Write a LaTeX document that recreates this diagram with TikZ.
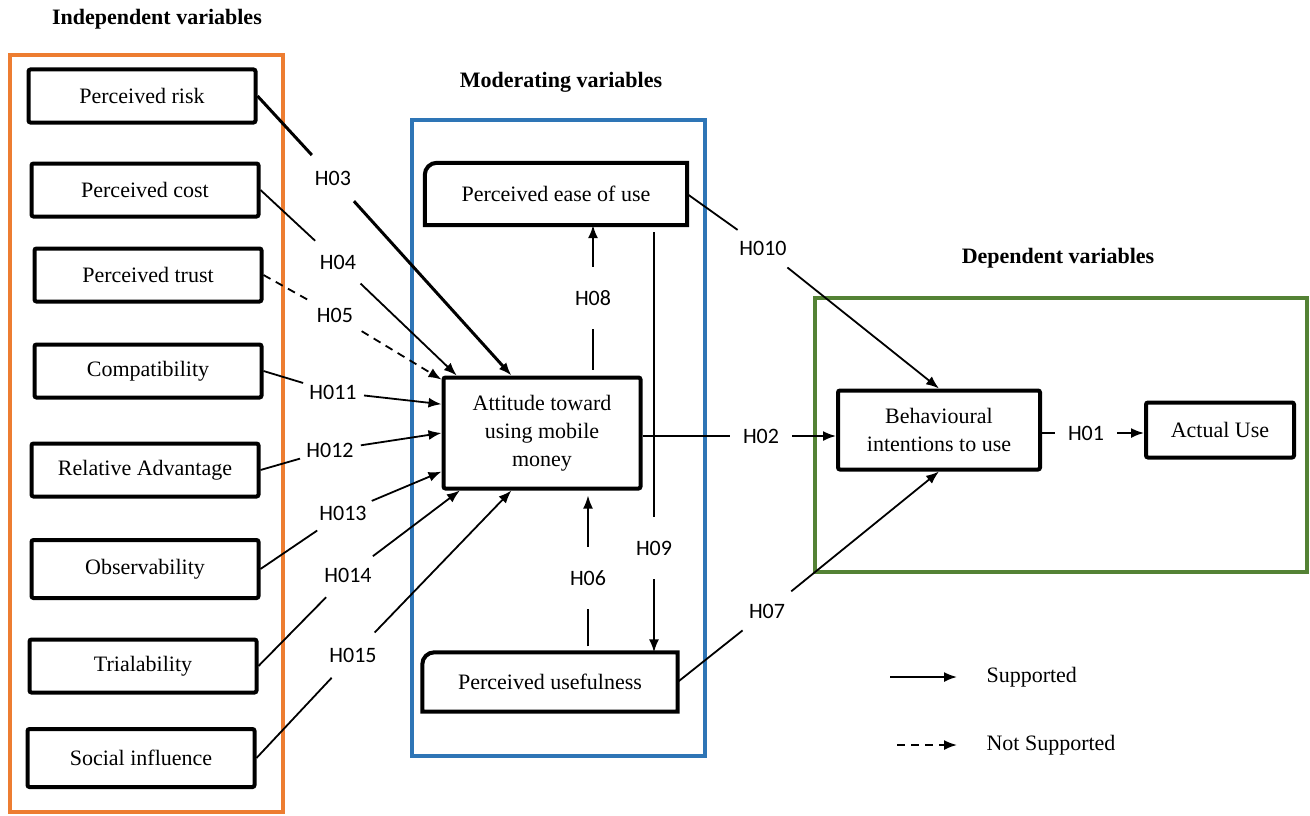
\documentclass[tikz,border=0pt]{standalone}
\usepackage{fontspec}
\setmainfont{Liberation Serif}
\newfontfamily\hypfont{Carlito}
\usetikzlibrary{arrows.meta}
\definecolor{indepcol}{HTML}{ED7D31}
\definecolor{modercol}{HTML}{2E75B6}
\definecolor{depcol}{HTML}{548235}

\begin{document}
\begin{tikzpicture}[x=1pt,y=-1pt,
  varbox/.style={draw, line width=4pt, rounded corners=2pt, minimum width=227pt,
    minimum height=53pt, inner sep=0pt, align=center, font=\fontsize{22}{28}\selectfont},
  modbox/.style={minimum width=262pt, minimum height=62pt, inner sep=0pt,
    font=\fontsize{22}{28}\selectfont},
  boxline/.style={line width=4pt},
  hyp/.style={circle, minimum size=62pt, inner sep=0pt, font=\hypfont\fontsize{22}{26}\selectfont},
  heading/.style={font=\bfseries\fontsize{22}{26}\selectfont},
  groupframe/.style={line width=4pt},
  link/.style={line width=1.8pt},
  arr/.style={-{Latex[length=13pt,width=10pt]}},
]
\useasboundingbox (0,0) rectangle (1310,816);

% group frames
\draw[groupframe, indepcol] (10,55) rectangle (283,812);
\draw[groupframe, modercol] (412,120) rectangle (705,756);
\draw[groupframe, depcol] (815,298) rectangle (1307,572);

\node[heading] (indep) at (157,19) {Independent variables};
\node[heading] (moder) at (561,82) {Moderating variables};
\node[heading] (depend) at (1058,258) {Dependent variables};

% independent variables
\node[varbox] (risk) at (142,96) {Perceived risk};
\node[varbox] (cost) at (145,190) {Perceived cost};
\node[varbox] (trust) at (148,275) {Perceived trust};
\node[varbox] (compat) at (148,371) {Compatibility};
\node[varbox] (reladv) at (145,470) {Relative Advantage};
\node[varbox, minimum height=58pt] (observ) at (145,569) {Observability};
\node[varbox] (trial) at (143,666) {Trialability};
\node[varbox, minimum height=58pt] (social) at (141,758) {Social influence};

% moderating variables
\node[modbox] (ease) at (556,194) {Perceived ease of use};
\draw[boxline] (ease.south west) -- ([yshift=-12pt]ease.north west)
  arc[start angle=180, end angle=90, radius=12pt] -- (ease.north east)
  -- (ease.south east) -- cycle;
\node[varbox, minimum width=197pt, minimum height=111pt] (att) at (542,433)
  {Attitude toward\\using mobile\\money};
\node[modbox, minimum width=255pt, minimum height=59pt] (useful) at (550,682) {Perceived usefulness};
\draw[boxline] (useful.south west) -- ([yshift=-12pt]useful.north west)
  arc[start angle=180, end angle=90, radius=12pt] -- (useful.north east)
  -- (useful.south east) -- cycle;

% dependent variables
\node[varbox, minimum width=202pt, minimum height=79pt] (behav) at (939,430)
  {Behavioural\\intentions to use};
\node[varbox, minimum width=148pt, minimum height=55pt] (actual) at (1220,430) {Actual Use};

% hypotheses
\node[hyp] (h03) at (333,178) {H03};
\node[hyp] (h04) at (338,262) {H04};
\node[hyp] (h05) at (335,315) {H05};
\node[hyp] (h011) at (333,392) {H011};
\node[hyp] (h012) at (330,450) {H012};
\node[hyp] (h013) at (343,513) {H013};
\node[hyp] (h014) at (348,575) {H014};
\node[hyp] (h015) at (353,655) {H015};
\node[hyp] (h08) at (593,298) {H08};
\node[hyp] (h09) at (654,548) {H09};
\node[hyp] (h06) at (588,578) {H06};
\node[hyp] (h010) at (763,248) {H010};
\node[hyp] (h02) at (761,436) {H02};
\node[hyp] (h01) at (1086,433) {H01};
\node[hyp] (h07) at (767,611) {H07};

\path[draw,line width=3pt] (risk.east) -- (h03);
\path[draw,line width=3pt,arr] (h03) -- (att.118);
\path[draw,link] (cost.east) -- (h04);
\path[draw,link,arr] (h04) -- (att.146);
\path[draw,link,dashed,dash pattern=on 8pt off 6pt] (trust.east) -- (h05);
\path[draw,link,dash pattern=on 8pt off 6pt,arr] (h05) -- (att.152);
\path[draw,link] (compat.east) -- (h011);
\path[draw,link,arr] (h011) -- (att.164);
\path[draw,link] (reladv.east) -- (h012);
\path[draw,link,arr] (h012) -- (att.180);
\path[draw,link] (observ.east) -- (h013);
\path[draw,link,arr] (h013) -- (att.201);
\path[draw,link] (trial.east) -- (h014);
\path[draw,link,arr] (h014) -- (att.215);
\path[draw,link] (social.east) -- (h015);
\path[draw,link,arr] (h015) -- (att.242);

\path[draw,link,shorten <=6pt] (att.north -| h08) -- (h08);
\path[draw,link,arr] (h08) -- (ease.south -| h08);
\path[draw,link,shorten <=7pt] (ease.south -| h09) -- (h09);
\path[draw,link,arr] (h09) -- (useful.north -| h09);
\path[draw,link,shorten <=6pt] (useful.north -| h06) -- (h06);
\path[draw,link,arr,shorten >=5pt] (h06) -- (att.south -| h06);

\path[draw,link] (ease.east) -- (h010);
\path[draw,link,arr] (h010) -- (behav.north);
\path[draw,link] (att.east |- h02) -- (h02);
\path[draw,link,arr] (h02) -- (behav.west |- h02);
\path[draw,link] (behav.east |- h01) -- (h01);
\path[draw,link,arr] (h01) -- (actual.west |- h01);
\path[draw,link] (useful.east) -- (h07);
\path[draw,link,arr] (h07) -- (behav.south);

% legend
\coordinate (sup1) at (890,677);
\coordinate (sup2) at (957,677);
\coordinate (nsup1) at (897,745);
\coordinate (nsup2) at (957,745);
\path[draw,link,arr] (sup1) -- (sup2);
\path[draw,link,dash pattern=on 8pt off 6pt,arr] (nsup1) -- (nsup2);
\node[anchor=west, font=\fontsize{22}{26}\selectfont] (suptext) at (983,677) {Supported};
\node[anchor=west, font=\fontsize{22}{26}\selectfont] (nsuptext) at (983,745) {Not Supported};
\end{tikzpicture}
\end{document}
